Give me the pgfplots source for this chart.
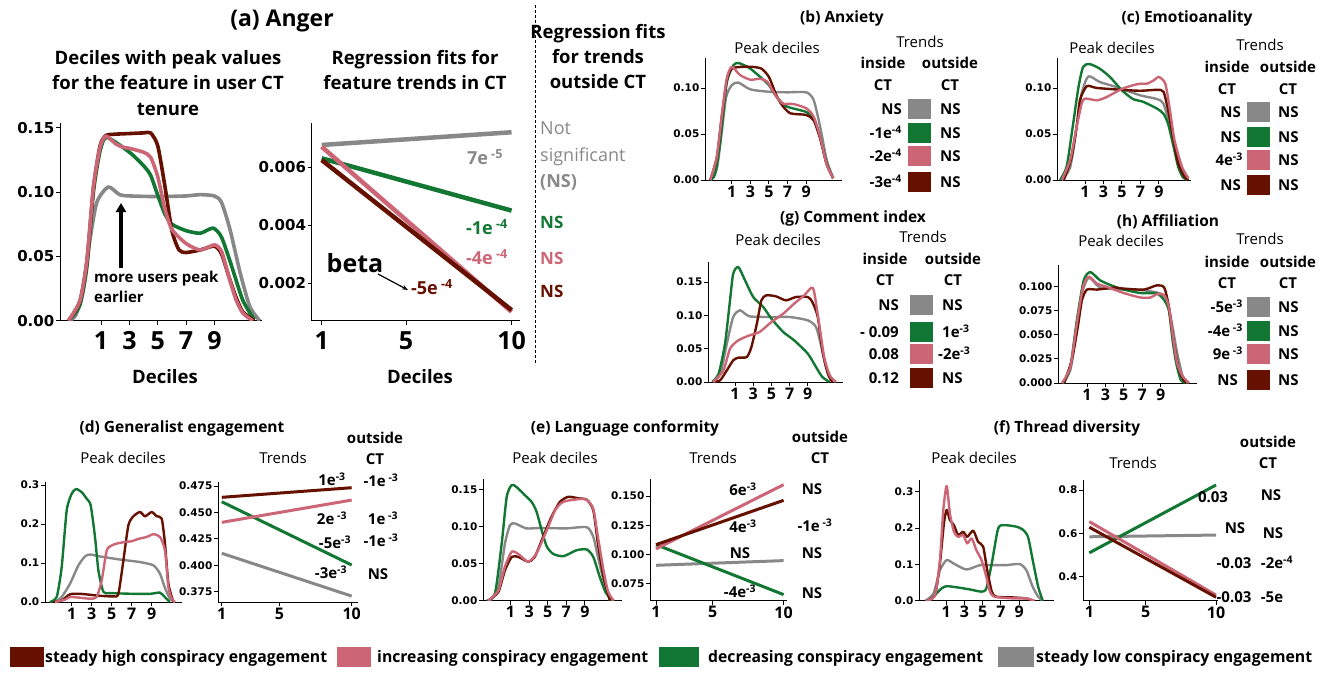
\documentclass[border=0pt]{standalone}
\usepackage{pgfplots}
\pgfplotsset{compat=1.18}
\usepackage{fontspec}
\setmainfont{Open Sans}
\newfontfamily\dv{DejaVu Sans}
\usetikzlibrary{arrows.meta}
\definecolor{cdr}{HTML}{661100}
\definecolor{cpk}{HTML}{CC6677}
\definecolor{cgr}{HTML}{117733}
\definecolor{cgy}{HTML}{888888}
\newcommand\fs[1]{\fontsize{#1}{#1}\selectfont}
\newcommand\sx[1]{\textsuperscript{#1}}
% one row of a trends table: y, x right of inside value, inside, x of square, colour, x of outside value, outside
\newcommand\trow[7]{%
  \node[anchor=base east, font=\bfseries\fs{15}] at (#2,#1+5.4) {#3};
  \fill[#5] (#4,#1-10) rectangle ++(23,20);
  \node[anchor=base west, font=\bfseries\fs{15}] at (#6,#1+5.4) {#7};}
\pgfplotsset{
  base/.style={scale only axis, axis lines*=left, tick align=outside,
    major tick length=4pt, axis line style={black, line width=0.9pt},
    tick style={black, line width=0.9pt}, scaled y ticks=false,
    yticklabel style={font=\dv\bfseries\fs{10.5}, inner sep=1.5pt},
    xticklabel style={font=\bfseries\fs{16}, inner sep=1.5pt},
    every axis plot/.append style={no markers, line join=round}},
  peak/.style={base, xtick={1,3,5,7,9}, xticklabels={1,3,5,7,9},
    every axis plot/.append style={smooth, tension=0.4, line width=2.4pt}},
  trend/.style={base, xtick={1,5,10}, xticklabels={1,5,10},
    every axis plot/.append style={line width=3pt}},
}
\begin{document}
\begin{tikzpicture}
\begin{scope}[x=1pt,y=-1pt]
\useasboundingbox (0,0) rectangle (1328,673);
\end{scope}

% ---------------- (a) Anger: peak deciles
\begin{axis}[peak, at={(60pt,-320.7pt)}, anchor=south west, width=202pt, height=197.7pt,
  xmin=-1.9, xmax=12.36, ymin=0, ymax=0.1537,
  ytick={0,0.05,0.1,0.15}, yticklabels={0.00,0.05,0.10,0.15},
  yticklabel style={font=\dv\bfseries\fs{15}}, xticklabel style={font=\bfseries\fs{25}, yshift=-5pt},
  every axis plot/.append style={line width=3.6pt}]
\addplot[cgy] coordinates {(-1.3,0)(-0.8,0.004)(-0.3,0.022)(0.2,0.062)(0.7,0.092)(1.5,0.104)(2.3,0.098)(3,0.097)(5,0.0965)(7,0.097)(8,0.098)(9,0.097)(9.5,0.092)(10.1,0.071)(10.8,0.038)(11.5,0.011)(12.2,0)};
\addplot[cgr] coordinates {(-1.3,0)(-0.5,0.012)(0,0.042)(0.46,0.1)(0.93,0.132)(1.4,0.1425)(3,0.131)(4,0.1205)(4.5,0.113)(5,0.0975)(5.5,0.083)(6,0.075)(7,0.070)(8,0.068)(8.9,0.072)(9.5,0.065)(10.2,0.043)(11,0.016)(11.8,0.001)};
\addplot[cdr] coordinates {(-1.3,0)(-0.5,0.015)(0,0.046)(0.46,0.103)(0.93,0.136)(1.35,0.144)(2,0.145)(3,0.1455)(4,0.146)(4.5,0.146)(5,0.136)(5.5,0.105)(6,0.07)(6.5,0.055)(7,0.053)(8,0.055)(9,0.058)(9.5,0.052)(10,0.035)(10.5,0.019)(11,0.007)(11.8,0)};
\addplot[cpk] coordinates {(-1.3,0)(-0.48,0.016)(0,0.047)(0.46,0.104)(0.93,0.135)(1.35,0.1435)(2,0.1378)(2.5,0.135)(3,0.134)(4,0.131)(4.5,0.127)(5,0.112)(5.5,0.087)(6,0.071)(7,0.060)(8,0.055)(9,0.059)(9.5,0.054)(10,0.035)(10.5,0.017)(11,0.006)(11.7,0)};
\end{axis}

% ---------------- (a) Anger: regression fits
\begin{axis}[trend, at={(311.7pt,-320.7pt)}, anchor=south west, width=208.3pt, height=197.7pt,
  xmin=0.526, xmax=10.4, ymin=0.0007, ymax=0.00754,
  ytick={0.002,0.004,0.006}, yticklabels={0.002,0.004,0.006},
  yticklabel style={font=\dv\bfseries\fs{15}}, xticklabel style={font=\bfseries\fs{25}, yshift=-5pt},
  every axis plot/.append style={line width=4.5pt}]
\addplot[cgy] coordinates {(1,0.00678)(10,0.00722)};
\addplot[cgr] coordinates {(1,0.00632)(10,0.00451)};
\addplot[cpk] coordinates {(1,0.00672)(10,0.00101)};
\addplot[cdr] coordinates {(1,0.00626)(10,0.00107)};
\end{axis}

% ---------------- (b) Anxiety
\begin{axis}[peak, at={(705pt,-180pt)}, anchor=south west, width=137pt, height=122pt,
  xmin=-1.87, xmax=12.85, ymin=0, ymax=0.1326,
  ytick={0,0.05,0.1}, yticklabels={0.00,0.05,0.10}]
\addplot[cgy] coordinates {(-1.3,0)(-0.6,0.012)(-0.1,0.05)(0.4,0.09)(1.0,0.103)(1.7,0.106)(3,0.0985)(4.9,0.096)(6.9,0.0953)(9,0.0953)(9.8,0.087)(10.5,0.058)(11.2,0.022)(11.9,0.002)};
\addplot[cgr] coordinates {(-1.3,0)(-0.8,0.006)(-0.25,0.04)(0.46,0.105)(1.2,0.125)(1.8,0.127)(3,0.121)(4.4,0.109)(5,0.103)(5.8,0.0906)(6.9,0.080)(9,0.074)(9.8,0.067)(10.5,0.047)(11.2,0.018)(11.9,0.002)};
\addplot[cdr] coordinates {(-1.3,0)(-0.6,0.025)(-0.07,0.069)(0.46,0.108)(1,0.121)(2.1,0.123)(3.2,0.123)(4.2,0.121)(5,0.112)(5.8,0.092)(6.4,0.0815)(7.3,0.0725)(9,0.0707)(9.8,0.065)(10.5,0.045)(11.2,0.017)(11.9,0.002)};
\addplot[cpk] coordinates {(-1.3,0)(-0.6,0.025)(-0.07,0.069)(0.46,0.11)(1,0.123)(1.9,0.114)(3,0.109)(4,0.110)(4.8,0.107)(5.8,0.0906)(6.5,0.083)(7.6,0.0826)(9,0.078)(9.8,0.069)(10.5,0.047)(11.2,0.017)(11.9,0.002)};
\end{axis}

% ---------------- (c) Emotioanality
\begin{axis}[peak, at={(1057pt,-180pt)}, anchor=south west, width=133.7pt, height=122pt,
  xmin=-2.03, xmax=12.45, ymin=0, ymax=0.1326,
  ytick={0,0.05,0.1}, yticklabels={0.00,0.05,0.10}]
\addplot[cgy] coordinates {(-1.5,0)(-0.6,0.014)(0.1,0.058)(0.64,0.094)(1.36,0.1126)(2.6,0.1065)(4.1,0.102)(5,0.099)(7,0.092)(8.8,0.088)(9.5,0.083)(10.2,0.058)(10.9,0.029)(11.6,0.007)(12.2,0)};
\addplot[cgr] coordinates {(-1.7,0)(-1,0.014)(-0.44,0.05)(0.28,0.10)(0.8,0.123)(1.5,0.126)(2.6,0.121)(3.7,0.112)(5,0.0975)(6.2,0.088)(7.3,0.085)(8.8,0.0776)(9.5,0.072)(10,0.061)(10.6,0.036)(11.1,0.014)(11.6,0.003)(12.1,0)};
\addplot[cdr] coordinates {(-1.3,0)(-0.44,0.025)(0.1,0.058)(0.46,0.087)(1.2,0.102)(2.3,0.100)(5,0.098)(7,0.097)(8.8,0.098)(9.5,0.096)(10,0.076)(10.6,0.043)(11.1,0.018)(11.8,0.003)(12.2,0)};
\addplot[cpk] coordinates {(-1.5,0)(-0.6,0.022)(0.1,0.058)(0.64,0.083)(1,0.0885)(2.3,0.0866)(3.3,0.090)(5,0.099)(6.2,0.103)(7,0.1047)(7.7,0.1047)(8.4,0.108)(9,0.112)(9.7,0.1047)(10.2,0.076)(10.7,0.043)(11.5,0.0144)(12.2,0.002)};
\end{axis}

% ---------------- (g) Comment index
\begin{axis}[peak, at={(708pt,-382pt)}, anchor=south west, width=135pt, height=120pt,
  xmin=-1.97, xmax=12.87, ymin=0, ymax=0.18,
  ytick={0,0.05,0.1,0.15}, yticklabels={0.00,0.05,0.10,0.15}]
\addplot[cgy] coordinates {(-1.4,0)(-0.6,0.0125)(0.1,0.0575)(0.8,0.0975)(1.55,0.1075)(2.6,0.0985)(5,0.0975)(7,0.0975)(9,0.0925)(9.9,0.0825)(10.5,0.0525)(11,0.0225)(11.7,0.0025)};
\addplot[cgr] coordinates {(-1.5,0)(-0.8,0.0125)(-0.1,0.0575)(0.45,0.1225)(0.8,0.1625)(1.36,0.1725)(2.1,0.1525)(3,0.1275)(4.1,0.1125)(5,0.095)(6.3,0.075)(7.5,0.0625)(9,0.0425)(9.9,0.0225)(10.6,0.0075)(11.4,0)};
\addplot[cdr] coordinates {(-1.4,0)(-0.64,0.0025)(0.1,0.0175)(0.8,0.0325)(1.36,0.0365)(2.3,0.0375)(2.8,0.0525)(3.4,0.0875)(3.9,0.1225)(4.45,0.13)(5.5,0.1285)(6.6,0.1225)(7.7,0.1275)(9,0.1275)(9.5,0.12)(10.1,0.0975)(10.6,0.0475)(11.2,0.0125)(11.7,0)};
\addplot[cpk] coordinates {(-1.4,0)(-0.27,0.0175)(0.45,0.05)(1.36,0.0625)(2.6,0.07)(3.7,0.075)(5,0.09)(6.3,0.1025)(7.5,0.1175)(8.6,0.13)(9.4,0.1415)(9.7,0.135)(10.3,0.0825)(10.8,0.0375)(11.4,0.01)(12.1,0)};
\end{axis}

% ---------------- (h) Affiliation
\begin{axis}[peak, at={(1058pt,-383pt)}, anchor=south west, width=139pt, height=118pt,
  xmin=-2.15, xmax=12.96, ymin=0, ymax=0.122,
  ytick={0,0.025,0.05,0.075,0.1}, yticklabels={0.000,0.025,0.050,0.075,0.100}]
\addplot[cgy] coordinates {(-1.7,0)(-0.8,0.0137)(-0.1,0.058)(0.45,0.0925)(1.2,0.109)(2.45,0.0986)(5,0.0966)(7.2,0.0959)(9,0.0925)(9.7,0.0856)(10.3,0.058)(10.8,0.031)(11.4,0.007)(11.9,0)};
\addplot[cgr] coordinates {(-1.5,0)(-0.8,0.017)(-0.1,0.065)(0.64,0.106)(1.36,0.1147)(2.45,0.106)(3.9,0.100)(5,0.0966)(6.8,0.093)(8.6,0.0925)(9.4,0.0856)(9.9,0.075)(10.3,0.0445)(10.7,0.0205)(11.2,0.003)(11.7,0)};
\addplot[cdr] coordinates {(-1.5,0)(-0.64,0.024)(0,0.058)(0.45,0.0856)(1,0.0966)(2.1,0.0966)(3.9,0.0986)(5,0.0976)(7.2,0.0966)(8.6,0.101)(9.4,0.0986)(9.9,0.0788)(10.45,0.041)(11,0.0137)(11.7,0)};
\addplot[cpk] coordinates {(-1.7,0)(-0.8,0.017)(-0.1,0.0616)(0.56,0.099)(1.2,0.110)(2.1,0.1027)(3.2,0.0993)(5,0.093)(6.8,0.0884)(7.9,0.0884)(8.6,0.0918)(9.4,0.0908)(9.9,0.0788)(10.3,0.051)(10.8,0.0205)(11.4,0.007)(12.1,0)};
\end{axis}

% ---------------- (d) Generalist engagement
\begin{axis}[peak, at={(45pt,-602pt)}, anchor=south west, width=137pt, height=120pt,
  xmin=-1.67, xmax=12.03, ymin=0, ymax=0.308,
  ytick={0,0.1,0.2,0.3}, yticklabels={0.0,0.1,0.2,0.3}]
\addplot[cgy] coordinates {(-0.67,0)(0,0.013)(0.83,0.047)(1.67,0.094)(2.33,0.117)(2.83,0.122)(3.83,0.117)(5.83,0.109)(7.83,0.1025)(9.17,0.094)(9.83,0.0726)(10.3,0.038)(10.83,0.0085)(11.33,0)};
\addplot[cgr] coordinates {(-1.2,0)(-0.5,0.013)(0,0.09)(0.5,0.235)(1,0.278)(1.43,0.29)(2,0.282)(2.5,0.265)(2.9,0.248)(3.33,0.167)(3.67,0.081)(4.17,0.026)(4.83,0.023)(7.17,0.021)(8.83,0.021)(9.83,0.024)(10.3,0.013)(10.8,0)};
\addplot[cdr] coordinates {(-0.83,0)(0,0.004)(0.83,0.0197)(1.83,0.021)(3.83,0.016)(5.17,0.0145)(5.67,0.021)(6.17,0.107)(6.67,0.197)(7.17,0.22)(7.83,0.231)(8.33,0.22)(9,0.231)(9.5,0.22)(10,0.214)(10.33,0.15)(10.67,0.047)(11.17,0)};
\addplot[cpk] coordinates {(-0.67,0)(0.33,0.006)(0.83,0.013)(1.83,0.011)(2.83,0.0085)(3.5,0.013)(4,0.0556)(4.5,0.132)(5,0.145)(5.5,0.15)(6.33,0.154)(7,0.156)(7.67,0.162)(8.5,0.167)(9.17,0.174)(9.83,0.167)(10.33,0.132)(10.67,0.038)(11,0.0085)(11.33,0)};
\end{axis}
\begin{axis}[trend, at={(218pt,-602pt)}, anchor=south west, width=140pt, height=120pt,
  xmin=0.736, xmax=10.44, ymin=0.3652, ymax=0.4788,
  ytick={0.375,0.4,0.425,0.45,0.475}, yticklabels={0.375,0.400,0.425,0.450,0.475}]
\addplot[cgy] coordinates {(1,0.4113)(10,0.3708)};
\addplot[cgr] coordinates {(1,0.4601)(10,0.4002)};
\addplot[cpk] coordinates {(1,0.4406)(10,0.4617)};
\addplot[cdr] coordinates {(1,0.4643)(10,0.4734)};
\end{axis}

% ---------------- (e) Language conformity
\begin{axis}[peak, at={(483pt,-600.7pt)}, anchor=south west, width=139pt, height=121.7pt,
  xmin=-1.96, xmax=12.99, ymin=0, ymax=0.164,
  ytick={0,0.05,0.1,0.15}, yticklabels={0.00,0.05,0.10,0.15}]
\addplot[cgy] coordinates {(-1.2,0)(-0.3,0.019)(0.4,0.077)(0.95,0.102)(1.5,0.104)(2.7,0.0975)(4.2,0.098)(7,0.0975)(9.2,0.099)(9.9,0.086)(10.4,0.059)(11,0.028)(11.7,0)};
\addplot[cgr] coordinates {(-1.56,0)(-0.67,0.01)(0.05,0.077)(0.59,0.14)(1.13,0.156)(1.66,0.153)(2.56,0.142)(3.28,0.133)(3.8,0.12)(4.35,0.095)(4.9,0.073)(5.6,0.063)(6.7,0.06)(8.1,0.068)(9.2,0.069)(9.9,0.059)(10.6,0.032)(11.2,0.012)(11.9,0)};
\addplot[cdr] coordinates {(-1.4,0)(-0.3,0.012)(0.4,0.041)(1.13,0.059)(1.84,0.059)(2.9,0.0526)(3.6,0.059)(4.5,0.086)(5.4,0.113)(6.3,0.133)(7.2,0.14)(8.3,0.138)(9.2,0.136)(9.9,0.122)(10.4,0.077)(11,0.032)(11.7,0)};
\addplot[cpk] coordinates {(-1.4,0)(-0.3,0.014)(0.4,0.046)(1.13,0.066)(1.84,0.063)(2.9,0.0526)(3.8,0.064)(4.9,0.095)(5.8,0.122)(6.5,0.132)(7.2,0.135)(8.5,0.137)(9.2,0.136)(9.9,0.124)(10.4,0.086)(11,0.041)(11.5,0.012)(12.1,0)};
\end{axis}
\begin{axis}[trend, at={(650pt,-600.7pt)}, anchor=south west, width=137pt, height=121.7pt,
  xmin=0.574, xmax=10.24, ymin=0.0607, ymax=0.1645,
  ytick={0.075,0.1,0.125,0.15}, yticklabels={0.075,0.100,0.125,0.150}]
\addplot[cgy] coordinates {(1,0.0909)(10,0.0949)};
\addplot[cgr] coordinates {(1,0.1085)(10,0.0659)};
\addplot[cpk] coordinates {(1,0.1049)(10,0.1597)};
\addplot[cdr] coordinates {(1,0.1085)(10,0.1463)};
\end{axis}

% ---------------- (f) Thread diversity
\begin{axis}[peak, at={(919pt,-600.7pt)}, anchor=south west, width=135pt, height=120.7pt,
  xmin=-2.0, xmax=12.84, ymin=0, ymax=0.3325,
  ytick={0,0.1,0.2,0.3}, yticklabels={0.0,0.1,0.2,0.3}]
\addplot[cgy] coordinates {(-1.3,0)(-0.4,0.02)(0.3,0.084)(1.04,0.112)(1.77,0.103)(3.2,0.086)(4.7,0.098)(6.1,0.098)(7.6,0.098)(9.07,0.101)(9.8,0.084)(10.5,0.0385)(11.1,0.011)(11.6,0)};
\addplot[cgr] coordinates {(-0.8,0)(-0.24,0.0156)(0.49,0.034)(1.04,0.04)(2.13,0.037)(3.6,0.031)(4.87,0.025)(5.4,0.034)(6,0.103)(6.7,0.199)(7.4,0.208)(8.7,0.204)(9.4,0.196)(9.98,0.176)(10.5,0.112)(11.1,0.0385)(11.6,0)};
\addplot[cdr] coordinates {(-1.15,0)(-0.24,0.0156)(0.3,0.103)(0.74,0.213)(1.04,0.25)(1.4,0.222)(1.84,0.208)(2.3,0.181)(2.86,0.19)(3.3,0.176)(3.96,0.193)(4.5,0.162)(5.05,0.149)(5.5,0.084)(6,0.025)(6.5,0.011)(8.3,0.009)(9.8,0.0064)(10.5,0)};
\addplot[cpk] coordinates {(-1.15,0)(-0.24,0.0156)(0.3,0.112)(0.67,0.25)(1.04,0.316)(1.4,0.24)(1.84,0.19)(2.3,0.176)(2.86,0.181)(3.3,0.158)(3.8,0.1716)(4.3,0.1395)(4.87,0.112)(5.4,0.066)(5.8,0.025)(6.3,0.011)(8.3,0.0064)(9.8,0.0064)(10.7,0)};
\end{axis}
\begin{axis}[trend, at={(1083pt,-600.7pt)}, anchor=south west, width=135pt, height=120.7pt,
  xmin=0.55, xmax=10.14, ymin=0.289, ymax=0.846,
  ytick={0.4,0.6,0.8}, yticklabels={0.4,0.6,0.8}]
\addplot[cgy] coordinates {(1,0.584)(10,0.592)};
\addplot[cgr] coordinates {(1,0.510)(10,0.823)};
\addplot[cpk] coordinates {(1,0.654)(10,0.315)};
\addplot[cdr] coordinates {(1,0.628)(10,0.305)};
\end{axis}

% ---------------- texts, tables, legend
\begin{scope}[x=1pt,y=-1pt, every node/.style={inner sep=0pt}]
% (a)
\node[anchor=base, font=\bfseries\fs{23}] at (282,26) {(a) Anger};
\node[align=center, font=\bfseries\fontsize{18.5}{25.5}\selectfont] at (168,83) {Deciles with peak values\\for the feature in user CT\\tenure};
\node[align=center, font=\bfseries\fontsize{18.5}{25.5}\selectfont] at (415,70) {Regression fits for\\feature trends in CT};
\node[align=center, font=\bfseries\fontsize{18.5}{25}\selectfont] at (598,57) {Regression fits\\for trends\\outside CT};
\node[anchor=base west, text=cgy, font=\fs{18}] at (540,134.5) {Not};
\node[anchor=base west, text=cgy, font=\fs{18}] at (540,161.5) {significant};
\node[anchor=base west, text=cgy, font=\bfseries\fs{18}] at (540,187.5) {(NS)};
\node[anchor=base west, text=cgr, font=\bfseries\fs{17}] at (540,228) {NS};
\node[anchor=base west, text=cpk, font=\bfseries\fs{17}] at (540,264) {NS};
\node[anchor=base west, text=cdr, font=\bfseries\fs{17}] at (540,297) {NS};
\draw[black, line width=1pt, dash pattern=on 3pt off 2pt] (535,5) -- (535,365);
\node[anchor=base, font=\bfseries\fs{18.5}] at (165,383.7) {Deciles};
\node[anchor=base, font=\bfseries\fs{18.5}] at (420,383.7) {Deciles};
\draw[line width=3.5pt, -{Triangle[length=9pt,width=10pt]}] (121,268) -- (121,203);
\node[anchor=base west, font=\bfseries\fs{15}] at (94,282) {more users peak};
\node[anchor=base west, font=\bfseries\fs{15}] at (94,302) {earlier};
\node[anchor=base, text=cgy, font=\bfseries\fs{18}] at (485,164.5) {7e\sx{ -5}};
\node[anchor=base, text=cgr, font=\bfseries\fs{18}] at (487,234.5) {-1e\sx{ -4}};
\node[anchor=base, text=cpk, font=\bfseries\fs{18}] at (487,264.5) {-4e\sx{ -4}};
\node[anchor=base, font=\bfseries\fs{25}] at (355,272) {beta};
\draw[line width=1.2pt, -{Stealth[length=6pt]}] (378,274) -- (408,290);
\node[anchor=base, text=cdr, font=\bfseries\fs{18}] at (432,294.5) {-5e\sx{ -4}};
% (b)
\node[anchor=base, font=\bfseries\fs{15.5}] at (842,22.5) {(b) Anxiety};
\node[anchor=base, font=\fs{15}] at (777,53.4) {Peak deciles};
\node[anchor=base, font=\fs{15}] at (920,47.4) {Trends};
\node[anchor=base, font=\bfseries\fs{15}] at (883,68.4) {inside};
\node[anchor=base, font=\bfseries\fs{15}] at (950,68.4) {outside};
\node[anchor=base, font=\bfseries\fs{15}] at (883,90.4) {CT};
\node[anchor=base, font=\bfseries\fs{15}] at (950,90.4) {CT};
\trow{109}{902}{NS}{908}{cgy}{940}{NS}
\trow{133}{902}{-1e\sx{-4}}{908}{cgr}{940}{NS}
\trow{156}{902}{-2e\sx{-4}}{908}{cpk}{940}{NS}
\trow{182}{902}{-3e\sx{-4}}{908}{cdr}{940}{NS}
% (c)
\node[anchor=base, font=\bfseries\fs{15.5}] at (1187,22.5) {(c) Emotioanality};
\node[anchor=base, font=\fs{15}] at (1112,53.4) {Peak deciles};
\node[anchor=base, font=\fs{15}] at (1260,50.4) {Trends};
\node[anchor=base, font=\bfseries\fs{15}] at (1227,72.4) {inside};
\node[anchor=base, font=\bfseries\fs{15}] at (1288,72.4) {outside};
\node[anchor=base, font=\bfseries\fs{15}] at (1227,94.4) {CT};
\node[anchor=base, font=\bfseries\fs{15}] at (1288,94.4) {CT};
\trow{112}{1241}{NS}{1247}{cgy}{1278}{NS}
\trow{137}{1241}{NS}{1247}{cgr}{1278}{NS}
\trow{160}{1243}{4e\sx{-3}}{1247}{cpk}{1278}{NS}
\trow{185}{1241}{NS}{1247}{cdr}{1278}{NS}
% (g)
\node[anchor=base, font=\bfseries\fs{15.5}] at (853,222.5) {(g) Comment index};
\node[anchor=base, font=\fs{15}] at (778,245.4) {Peak deciles};
\node[anchor=base, font=\fs{15}] at (923,242.4) {Trends};
\node[anchor=base, font=\bfseries\fs{15}] at (885,264.4) {inside};
\node[anchor=base, font=\bfseries\fs{15}] at (953,264.4) {outside};
\node[anchor=base, font=\bfseries\fs{15}] at (885,285.4) {CT};
\node[anchor=base, font=\bfseries\fs{15}] at (953,285.4) {CT};
\trow{305}{899}{NS}{910}{cgy}{942}{NS}
\trow{332}{899}{- 0.09}{910}{cgr}{942}{1e\sx{-3}}
\trow{354}{899}{0.08}{910}{cpk}{938}{-2e\sx{-3}}
\trow{378}{899}{0.12}{910}{cdr}{942}{NS}
% (h)
\node[anchor=base, font=\bfseries\fs{15.5}] at (1168,226.5) {(h) Affiliation};
\node[anchor=base, font=\fs{15}] at (1121,246.4) {Peak deciles};
\node[anchor=base, font=\fs{15}] at (1260,244.4) {Trends};
\node[anchor=base, font=\bfseries\fs{15}] at (1227,267.4) {inside};
\node[anchor=base, font=\bfseries\fs{15}] at (1288,267.4) {outside};
\node[anchor=base, font=\bfseries\fs{15}] at (1227,288.4) {CT};
\node[anchor=base, font=\bfseries\fs{15}] at (1288,288.4) {CT};
\trow{307}{1243}{-5e\sx{-3}}{1247}{cgy}{1278}{NS}
\trow{331}{1243}{-4e\sx{ -3}}{1247}{cgr}{1278}{NS}
\trow{354}{1243}{9e\sx{ -3}}{1247}{cpk}{1278}{NS}
\trow{380}{1238}{NS}{1247}{cdr}{1278}{NS}
% (d)
\node[anchor=base, font=\bfseries\fs{15.5}] at (182,432.5) {(d) Generalist engagement};
\node[anchor=base, font=\fs{15}] at (123,463.4) {Peak deciles};
\node[anchor=base, font=\fs{15}] at (283,463.4) {Trends};
\node[anchor=base, font=\bfseries\fs{15}] at (375,443.4) {outside};
\node[anchor=base, font=\bfseries\fs{15}] at (375,464.4) {CT};
\node[anchor=base, font=\bfseries\fs{15}] at (332,485.4) {1e\sx{-3}};
\node[anchor=base, font=\bfseries\fs{15}] at (332,524.4) {2e\sx{ -3}};
\node[anchor=base, font=\bfseries\fs{15}] at (335,548.4) {-5e\sx{-3}};
\node[anchor=base, font=\bfseries\fs{15}] at (331,578.4) {-3e\sx{-3}};
\node[anchor=base, font=\bfseries\fs{15}] at (381,486.4) {-1e\sx{ -3}};
\node[anchor=base, font=\bfseries\fs{15}] at (383,524.4) {1e\sx{ -3}};
\node[anchor=base, font=\bfseries\fs{15}] at (381,546.4) {-1e\sx{ -3}};
\node[anchor=base, font=\bfseries\fs{15}] at (378,579.4) {NS};
% (e)
\node[anchor=base, font=\bfseries\fs{15.5}] at (625,432.5) {(e) Language conformity};
\node[anchor=base, font=\fs{15}] at (555,463.4) {Peak deciles};
\node[anchor=base, font=\fs{15}] at (713,463.4) {Trends};
\node[anchor=base, font=\bfseries\fs{15}] at (820,442.4) {outside};
\node[anchor=base, font=\bfseries\fs{15}] at (820,463.4) {CT};
\node[anchor=base, font=\bfseries\fs{15}] at (743,495.4) {6e\sx{-3}};
\node[anchor=base, font=\bfseries\fs{15}] at (743,532.4) {4e\sx{-3}};
\node[anchor=base, font=\bfseries\fs{15}] at (740,558.4) {NS};
\node[anchor=base, font=\bfseries\fs{15}] at (740,597.4) {-4e\sx{-3}};
\node[anchor=base, font=\bfseries\fs{15}] at (812,494.4) {NS};
\node[anchor=base, font=\bfseries\fs{15}] at (815,531.4) {-1e\sx{ -3}};
\node[anchor=base, font=\bfseries\fs{15}] at (812,558.4) {NS};
\node[anchor=base, font=\bfseries\fs{15}] at (812,598.4) {NS};
% (f)
\node[anchor=base, font=\bfseries\fs{15.5}] at (1067,432.5) {(f) Thread diversity};
\node[anchor=base, font=\fs{15}] at (974,463.4) {Peak deciles};
\node[anchor=base, font=\fs{15}] at (1133,468.4) {Trends};
\node[anchor=base, font=\bfseries\fs{15}] at (1268,447.4) {outside};
\node[anchor=base, font=\bfseries\fs{15}] at (1268,468.4) {CT};
\node[anchor=base, font=\bfseries\fs{15}] at (1213,502.4) {0.03};
\node[anchor=base, font=\bfseries\fs{15}] at (1235,533.4) {NS};
\node[anchor=base, font=\bfseries\fs{15}] at (1234,568.4) {-0.03};
\node[anchor=base, font=\bfseries\fs{15}] at (1234,602.4) {-0.03};
\node[anchor=base, font=\bfseries\fs{15}] at (1271,500.4) {NS};
\node[anchor=base, font=\bfseries\fs{15}] at (1273,538.4) {NS};
\node[anchor=base, font=\bfseries\fs{15}] at (1277,568.4) {-2e\sx{-4}};
\node[anchor=base, font=\bfseries\fs{15}] at (1272,602.4) {-5e};
% legend
\fill[cdr] (10,647) rectangle (44,667);
\node[anchor=base west, font=\bfseries\fs{16}] at (45,662.7) {\resizebox{282pt}{\height}{steady high conspiracy engagement}};
\fill[cpk] (337,647) rectangle (371,667);
\node[anchor=base west, font=\bfseries\fs{16}] at (377,662.7) {\resizebox{271pt}{\height}{increasing conspiracy engagement}};
\fill[cgr] (659,647) rectangle (699,667);
\node[anchor=base west, font=\bfseries\fs{16}] at (708,662.7) {\resizebox{275pt}{\height}{decreasing conspiracy engagement}};
\fill[cgy] (998,647) rectangle (1034,667);
\node[anchor=base west, font=\bfseries\fs{16}] at (1036,662.7) {\resizebox{276pt}{\height}{steady low conspiracy engagement}};
\end{scope}
\end{tikzpicture}
\end{document}
